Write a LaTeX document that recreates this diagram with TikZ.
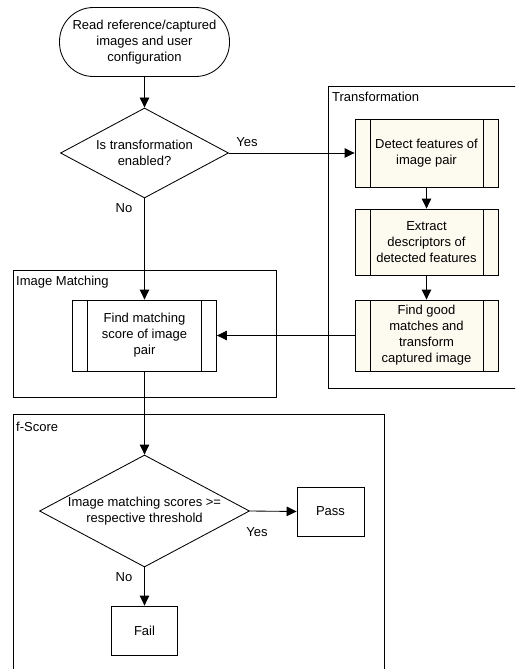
\documentclass[tikz,border=0pt]{standalone}
\usepackage{fontspec}
\setmainfont{Liberation Sans}
\usetikzlibrary{shapes.geometric,arrows.meta}
\definecolor{cream}{HTML}{FDFAEF}
\tikzset{
  every node/.style={font=\fontsize{13}{16}\selectfont, align=center},
  ln/.style={line width=0.85pt},
  arr/.style={ln, -{Triangle[length=10pt,width=9.5pt]}},
  termbox/.style={draw, ln, rounded corners=34pt, minimum width=170pt, minimum height=69pt, inner sep=0pt},
  decbox/.style={draw, ln, diamond, inner sep=0pt},
  procbox/.style={draw, ln, inner sep=0pt,
    path picture={
      \draw[ln] ([xshift=15pt]path picture bounding box.north west) -- ([xshift=15pt]path picture bounding box.south west);
      \draw[ln] ([xshift=-15pt]path picture bounding box.north east) -- ([xshift=-15pt]path picture bounding box.south east);
    }},
  plainbox/.style={draw, ln, inner sep=0pt},
  container/.style={draw, ln},
  clabel/.style={anchor=west, inner sep=0pt},
}
\begin{document}
\begin{tikzpicture}[x=1pt, y=-1pt]
\clip (0,0) rectangle (515,669);
\fill[white] (0,0) rectangle (515,669);
% containers
\draw[container] (328,86) rectangle (525,388);
\node[clabel] (lt) at (332,97) {Transformation};
\draw[container] (13,270) rectangle (276,397);
\node[clabel] (lim) at (16,282) {Image Matching};
\draw[container] (13,414) rectangle (384,690);
\node[clabel] (lf) at (16,427) {f-Score};
% nodes
\node[termbox] (start) at (144.5,42) {Read reference/captured\\images and user\\configuration};
\node[decbox, minimum width=168pt, minimum height=90pt] (d1) at (144.5,153) {};
\node (d1t) at (144.5,153) {Is transformation\\enabled?};
\node[procbox, fill=cream, minimum width=143pt, minimum height=68pt] (detect) at (426.5,153) {Detect features of\\image pair};
\node[procbox, fill=cream, minimum width=143pt, minimum height=66pt] (extract) at (426.5,242) {Extract\\descriptors of\\detected features};
\node[procbox, fill=cream, minimum width=143pt, minimum height=71pt] (good) at (426.5,335.5) {Find good\\matches and\\transform\\captured image};
\node[procbox, minimum width=144pt, minimum height=71pt] (fm) at (144.5,335.5) {Find matching\\score of image\\pair};
\node[decbox, minimum width=210pt, minimum height=112pt] (d2) at (144.5,511) {};
\node (d2t) at (144.5,511) {Image matching scores >=\\respective threshold};
\node[plainbox, minimum width=67pt, minimum height=49pt] (pass) at (330.5,511.5) {Pass};
\node[plainbox, minimum width=66pt, minimum height=49pt] (fail) at (144.5,630.5) {Fail};
% connectors
\draw[arr] (start) -- (d1);
\draw[arr] (d1.east) -- (detect.west);
\draw[arr] (d1.south) -- (fm.north);
\draw[arr] (detect) -- (extract);
\draw[arr] (extract) -- (good);
\draw[arr] (good.west) -- (fm.east);
\draw[arr] (fm.south) -- (d2.north);
\draw[arr] (d2.east) -- (pass.west);
\draw[arr] (d2.south) -- (fail.north);
% labels
\node (y1) at (247,142) {Yes};
\node (n1) at (124,208) {No};
\node (y2) at (257,532) {Yes};
\node (n2) at (124,577) {No};
\end{tikzpicture}
\end{document}
